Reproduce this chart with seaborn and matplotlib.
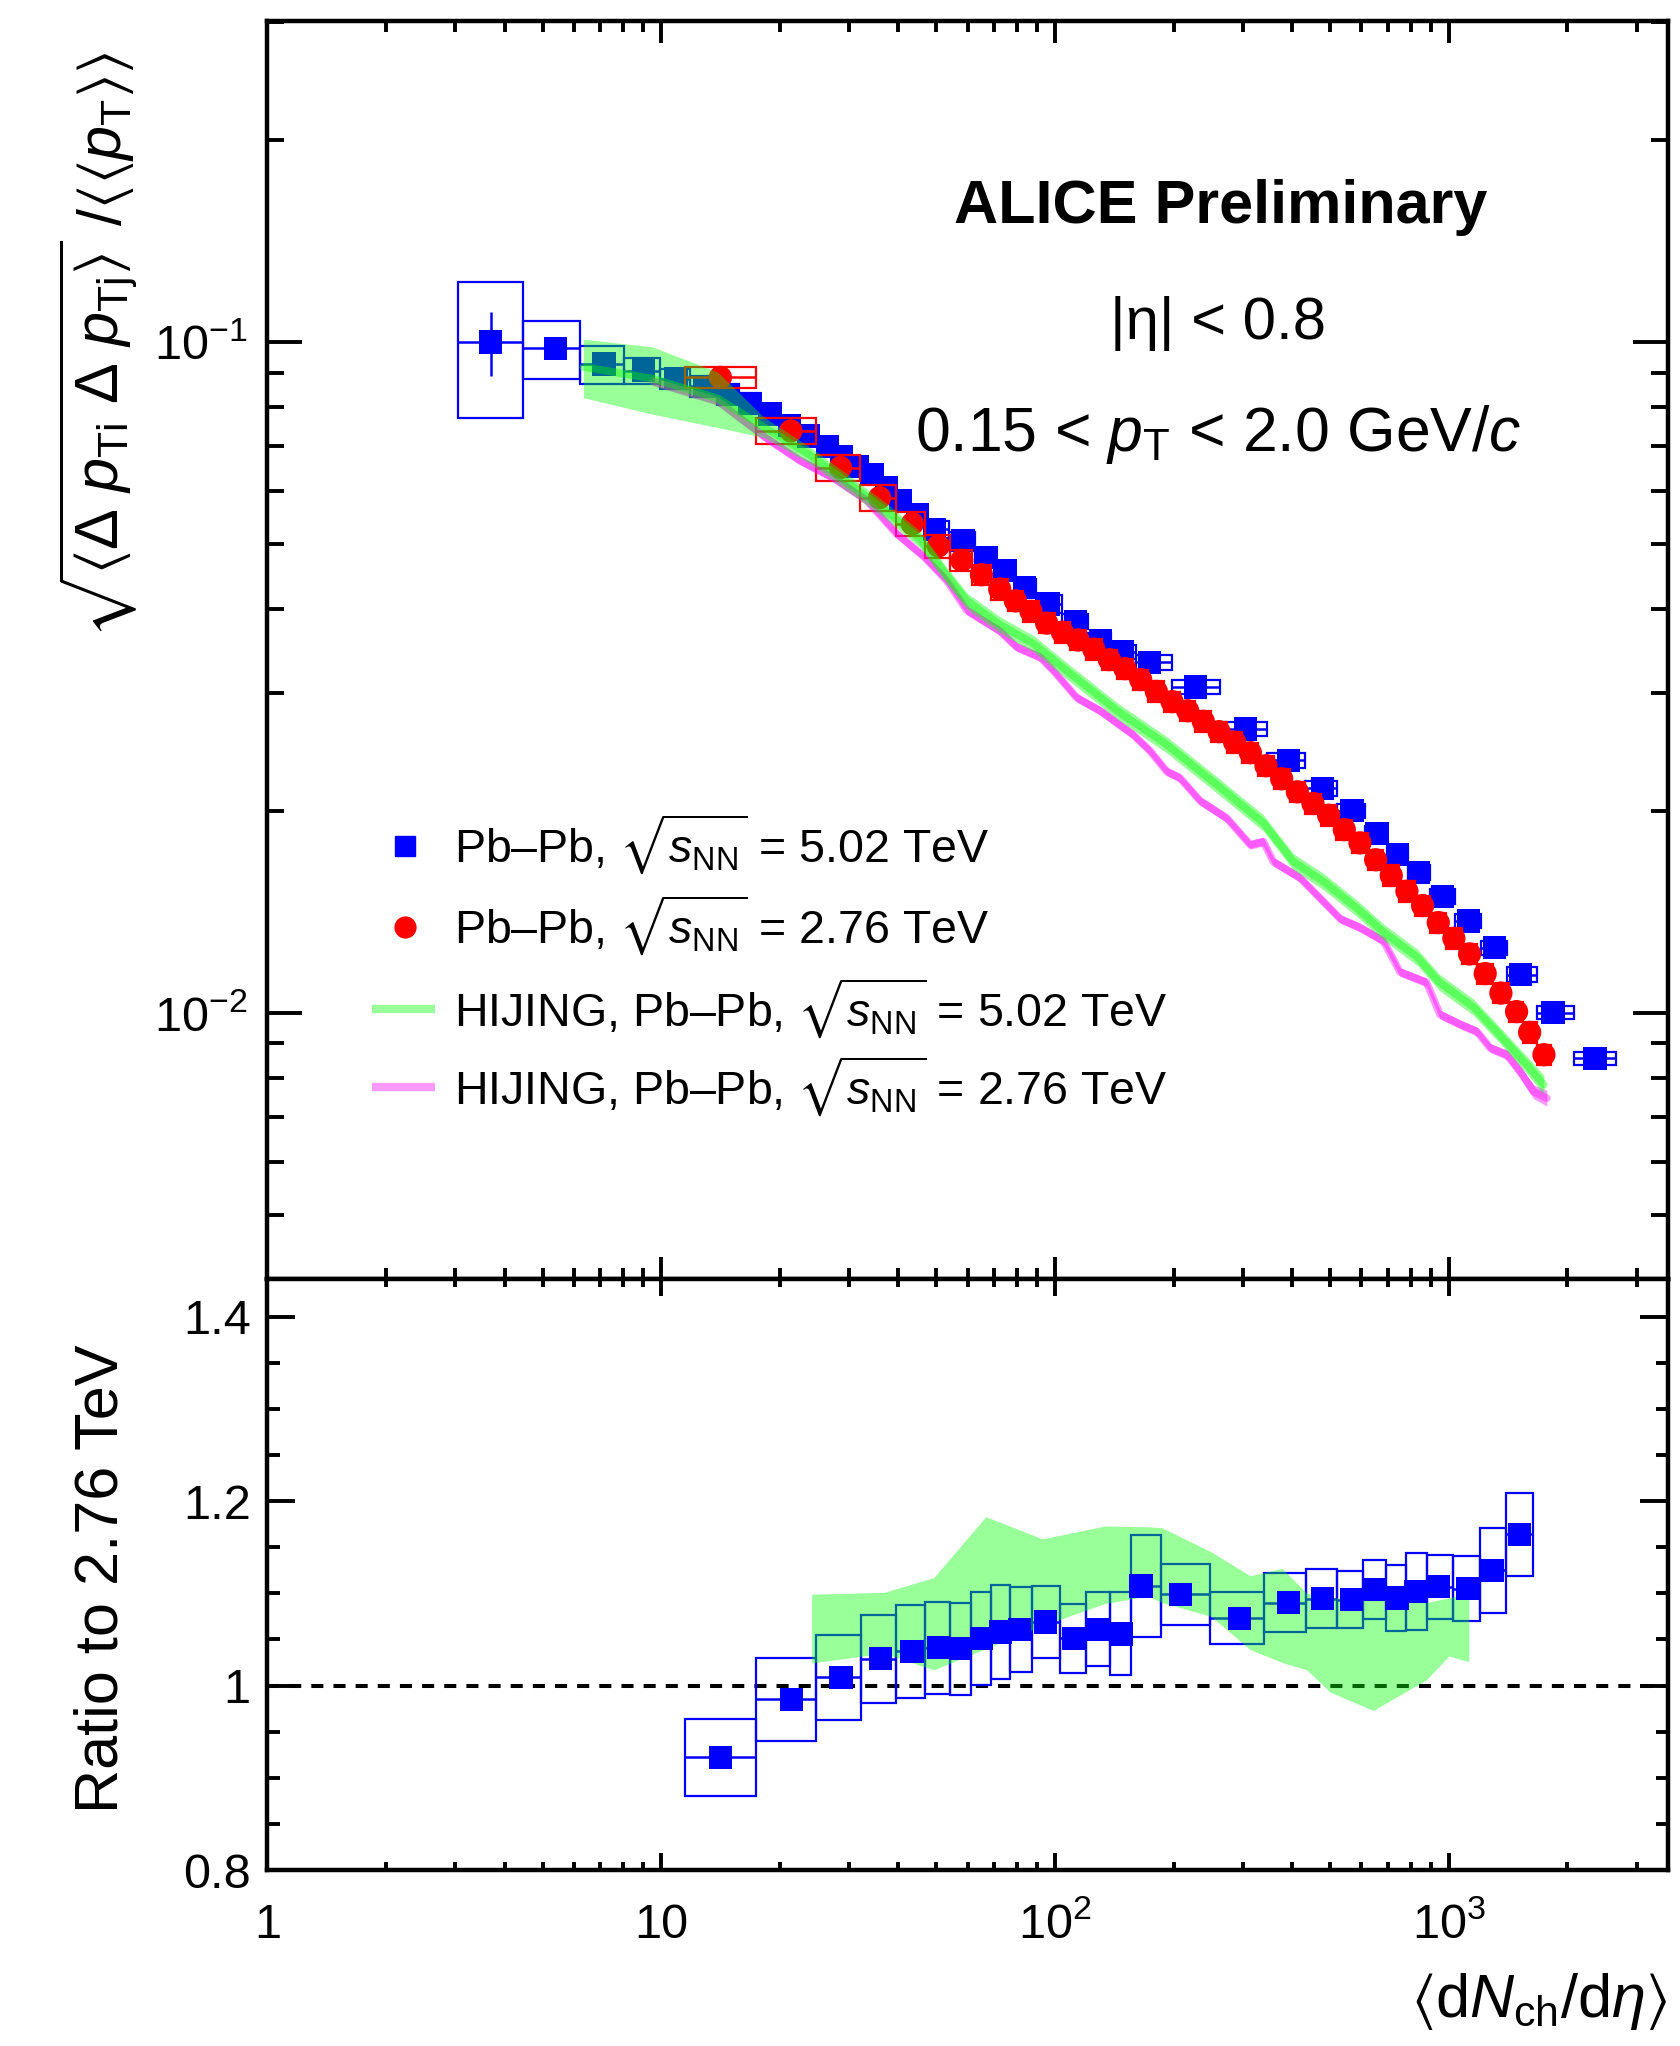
import numpy as np
import pandas as pd
import matplotlib
matplotlib.use("Agg")
import matplotlib.pyplot as plt
import seaborn as sns
from matplotlib.patches import Rectangle
from matplotlib.ticker import FixedLocator, FixedFormatter, LogLocator, NullFormatter, MultipleLocator

# ---------------- data ----------------
# ALICE Pb-Pb 5.02 TeV
pbpb502_x = [3.69, 5.40, 7.16, 9.01, 10.9, 12.9, 14.8, 16.8, 18.9, 21.2,
             23.7, 26.4, 28.7, 31.5, 34.3, 37.3, 40.5, 44.7, 49.4, 58.4,
             67.0, 74.6, 83.6, 96.0, 112.6, 130.2, 148.3, 174, 227, 304,
             391, 477, 568, 657, 742, 838, 962, 1120, 1305, 1521,
             1840, 2350]
pbpb502_y = [0.1000, 0.0978, 0.0927, 0.0906, 0.0882, 0.0859, 0.0836, 0.0810, 0.0781, 0.0750,
             0.0724, 0.0698, 0.0674, 0.0653, 0.0635, 0.0607, 0.0581, 0.0553, 0.0526, 0.0506,
             0.0477, 0.0456, 0.0430, 0.0407, 0.0383, 0.0359, 0.0345, 0.0333, 0.0306, 0.0265,
             0.0238, 0.0216, 0.0200, 0.0185, 0.0172, 0.0162, 0.0149, 0.0137, 0.0125, 0.0114,
             0.0100, 0.00855]
pbpb502_sys = [0.23, 0.10, 0.065, 0.045, 0.035, 0.035, 0.035, 0.035, 0.035, 0.035,
               0.030, 0.030, 0.030, 0.030, 0.030, 0.030, 0.030, 0.030, 0.030, 0.030,
               0.030, 0.030, 0.030, 0.030, 0.025, 0.025, 0.025, 0.025, 0.025, 0.025,
               0.025, 0.025, 0.025, 0.025, 0.025, 0.025, 0.025, 0.025, 0.025, 0.025,
               0.022, 0.022]
pbpb502_stat = [0.11, 0.020, 0.018, 0.008, 0.006, 0.005, 0.005, 0.005, 0.005, 0.005,
                0.005, 0.005, 0.005, 0.005, 0.005, 0.005, 0.005, 0.005, 0.005, 0.005,
                0.005, 0.005, 0.005, 0.005, 0.005, 0.005, 0.005, 0.005, 0.005, 0.005,
                0.005, 0.005, 0.005, 0.005, 0.005, 0.005, 0.005, 0.005, 0.005, 0.005,
                0.005, 0.005]

# ALICE Pb-Pb 2.76 TeV
pbpb276_x = [14.13, 21.34, 28.52, 35.85, 43.41, 50.54, 57.98, 65.03, 72.37, 79.3,
             86.9, 95.2, 104.4, 114.4, 125.4, 137.4, 150.5, 165.0, 180.8, 198.2,
             217.2, 237.9, 260.9, 285.8, 313.3, 343.3, 376.3, 412.4, 451.9, 495.2,
             542.7, 594.8, 651.9, 714.2, 782.7, 857.8, 940.1, 1030, 1129, 1237,
             1356, 1486, 1604, 1744]
pbpb276_y = [0.08857, 0.07370, 0.06500, 0.05861, 0.05358, 0.04965, 0.04726, 0.04498, 0.04281, 0.04112,
             0.03967, 0.03810, 0.03693, 0.03595, 0.03484, 0.03361, 0.03258, 0.03139, 0.03014, 0.02910,
             0.02820, 0.02720, 0.02625, 0.02532, 0.02442, 0.02335, 0.02233, 0.02135, 0.02051, 0.01970,
             0.01875, 0.01792, 0.01691, 0.01602, 0.01518, 0.01445, 0.01363, 0.01291, 0.01224, 0.01144,
             0.01070, 0.01004, 0.00935, 0.00866]
pbpb276_sys = [0.035, 0.045, 0.045, 0.045, 0.040, 0.040, 0.035, 0.035, 0.035, 0.035,
               0.035, 0.035, 0.035, 0.035, 0.035, 0.035, 0.035, 0.035, 0.035, 0.035,
               0.035, 0.035, 0.035, 0.035, 0.035, 0.035, 0.035, 0.035, 0.035, 0.035,
               0.035, 0.035, 0.035, 0.035, 0.035, 0.035, 0.035, 0.035, 0.035, 0.035,
               0.035, 0.035, 0.035, 0.035]

# HIJING Pb-Pb 5.02 TeV
hij502_x = [6.34, 9.50, 13.9, 18.2, 23.7, 29.9, 37.5, 45.4, 52.9, 59.8,
            72.4, 88.2, 106.8, 143.8, 192.2, 256.9, 338, 402.9, 480.3, 585.8,
            682.3, 832.2, 947.3, 1155, 1346, 1579, 1744]
hij502_y = [0.0918, 0.0882, 0.0824, 0.0747, 0.0680, 0.0616, 0.0558, 0.0508, 0.0450, 0.0411,
            0.0379, 0.0355, 0.0324, 0.0282, 0.0251, 0.0219, 0.0192, 0.0168, 0.0157, 0.0143,
            0.0132, 0.0121, 0.0111, 0.0102, 0.00927, 0.00836, 0.00781]
hij502_err = [0.100, 0.115, 0.095, 0.035, 0.028, 0.028, 0.028, 0.028, 0.028, 0.028,
              0.028, 0.028, 0.028, 0.028, 0.028, 0.028, 0.028, 0.028, 0.028, 0.028,
              0.028, 0.028, 0.028, 0.028, 0.028, 0.030, 0.033]

# HIJING Pb-Pb 2.76 TeV
hij276_x = [9.5, 13.9, 18.5, 22.5, 27.3, 33.2, 39.6, 46.6, 53.1, 59.7,
            72.4, 79.9, 91.7, 98.9, 113.5, 130.2, 157.6, 174, 192.2, 207.5,
            233.6, 273.2, 313.3, 338, 358.3, 418.7, 530.5, 594.8, 682.3, 752,
            877.7, 950.1, 1069, 1178, 1274, 1404, 1517, 1641, 1774]
hij276_y = [0.0874, 0.0817, 0.0719, 0.0666, 0.0628, 0.0581, 0.0518, 0.0478, 0.0441, 0.0398,
            0.0371, 0.0351, 0.0339, 0.0324, 0.0295, 0.0282, 0.0260, 0.0246, 0.0229, 0.0224,
            0.0207, 0.0195, 0.0178, 0.0180, 0.0168, 0.0159, 0.0138, 0.0134, 0.0128, 0.0115,
            0.0111, 0.00994, 0.00961, 0.00938, 0.00886, 0.00866, 0.00817, 0.00763, 0.00746]
hij276_err = [0.015, 0.015, 0.015, 0.015, 0.015, 0.015, 0.015, 0.015, 0.015, 0.015,
              0.015, 0.015, 0.015, 0.015, 0.015, 0.015, 0.015, 0.015, 0.015, 0.015,
              0.015, 0.015, 0.015, 0.015, 0.015, 0.015, 0.015, 0.015, 0.015, 0.015,
              0.015, 0.015, 0.015, 0.015, 0.015, 0.017, 0.020, 0.024, 0.027]

# Ratio 5.02 / 2.76 (data)
ratio_x = [14.15, 21.4, 28.6, 36.1, 43.3, 50.7, 57.6, 65.0, 72.6, 81.2,
           94.6, 111.6, 129.1, 147.6, 165.2, 208.5, 294.4, 391.5, 478, 566,
           648.6, 738.6, 823.7, 943.4, 1113, 1292, 1515]
ratio_y = [0.922, 0.985, 1.009, 1.029, 1.037, 1.041, 1.040, 1.051, 1.058, 1.061,
           1.069, 1.051, 1.061, 1.056, 1.108, 1.099, 1.073, 1.090, 1.094, 1.093,
           1.104, 1.095, 1.102, 1.107, 1.105, 1.125, 1.164]
ratio_sys = [0.042, 0.045, 0.046, 0.048, 0.050, 0.050, 0.050, 0.050, 0.051, 0.046,
             0.039, 0.037, 0.040, 0.045, 0.055, 0.033, 0.028, 0.032, 0.032, 0.031,
             0.032, 0.036, 0.042, 0.035, 0.035, 0.046, 0.045]

# Ratio HIJING band
hijr_x = [24.1, 36.8, 49.2, 66.7, 92.9, 134, 172, 187, 249, 313,
          377, 436, 499, 642, 876, 1000, 1124]
hijr_hi = [1.099, 1.101, 1.117, 1.183, 1.159, 1.173, 1.172, 1.171, 1.145, 1.119,
           1.127, 1.100, 1.095, 1.095, 1.090, 1.095, 1.100]
hijr_lo = [1.0245, 1.035, 1.017, 1.040, 1.065, 1.089, 1.097, 1.090, 1.075, 1.039,
           1.025, 1.017, 0.993, 0.973, 1.006, 1.032, 1.026]

# ---------------- style ----------------
sns.set_style("ticks")
plt.rcParams['font.family'] = ['Liberation Sans', 'DejaVu Sans']
plt.rcParams['mathtext.fontset'] = 'custom'
plt.rcParams['mathtext.rm'] = 'Liberation Sans'
plt.rcParams['mathtext.it'] = 'Liberation Sans:italic'
plt.rcParams['mathtext.bf'] = 'Liberation Sans:bold'
plt.rcParams['mathtext.fallback'] = 'stixsans'
plt.rcParams['axes.linewidth'] = 3.2
for k in ('text.color', 'axes.labelcolor', 'xtick.color', 'ytick.color', 'axes.edgecolor'):
    plt.rcParams[k] = 'black'

BLUE = (0, 0, 1)
RED = (1, 0, 0)
GREEN_A = (0, 1, 0, 0.4)
MAG_A = (1, 0, 1, 0.4)
TICKFS = 35
LABFS = 44


def log_edges(x):
    lx = np.log10(np.asarray(x, float))
    mids = 0.5 * (lx[1:] + lx[:-1])
    left = np.r_[lx[0] - (mids[0] - lx[0]), mids]
    right = np.r_[mids, lx[-1] + (lx[-1] - mids[-1])]
    return 10 ** left, 10 ** right


def draw_points(ax, x, y, ylo, yhi, stat, color, marker, z):
    x = np.asarray(x, float)
    y = np.asarray(y, float)
    xl, xr = log_edges(x)
    for a, b, lo, hi in zip(xl, xr, ylo, yhi):
        ax.add_patch(Rectangle((a, lo), b - a, hi - lo, fill=False,
                               edgecolor=color, lw=1.6, zorder=z))
    ax.errorbar(x, y, xerr=[x - xl, xr - x], yerr=stat, fmt='none',
                ecolor=color, elinewidth=1.8, capsize=0, zorder=z + 0.1)
    df = pd.DataFrame({'x': x, 'y': y})
    sns.scatterplot(data=df, x='x', y='y', marker=marker, s=280, color=color,
                    edgecolor='none', linewidth=0, ax=ax, zorder=z + 0.2, legend=False)


fig = plt.figure(figsize=(16.81, 20.46), dpi=100)
ax1 = fig.add_axes([0.1591, 0.37488, 0.8331, 0.61486])
ax2 = fig.add_axes([0.1591, 0.0860, 0.8331, 0.28888], sharex=ax1)

# ---------------- top panel ----------------
y5 = np.asarray(pbpb502_y)
s5 = np.asarray(pbpb502_sys)
draw_points(ax1, pbpb502_x, y5, y5 * (1 - s5), y5 * (1 + s5),
            y5 * np.asarray(pbpb502_stat), BLUE, 's', 3)
y2 = np.asarray(pbpb276_y)
s2 = np.asarray(pbpb276_sys)
draw_points(ax1, pbpb276_x, y2, y2 * (1 - s2), y2 * (1 + s2),
            None, RED, 'o', 4)

hy = np.asarray(hij276_y)
he = np.asarray(hij276_err)
ax1.fill_between(hij276_x, hy * (1 - he), hy * (1 + he), color=MAG_A, lw=0, zorder=6)
sns.lineplot(x=hij276_x, y=hij276_y, color=(1, 0, 1), alpha=0.4, lw=5.5, ax=ax1,
             zorder=6, estimator=None, sort=False)
gy = np.asarray(hij502_y)
ge = np.asarray(hij502_err)
ax1.fill_between(hij502_x, gy * (1 - ge), gy * (1 + ge), color=GREEN_A, lw=0, zorder=7)
sns.lineplot(x=hij502_x, y=hij502_y, color=(0, 1, 0), alpha=0.4, lw=5.5, ax=ax1,
             zorder=7, estimator=None, sort=False)

ax1.set_xscale('log')
ax1.set_yscale('log')
ax1.set_xlim(1, 3600)
ax1.set_ylim(0.00401, 0.301)

# legend (manual rows)
rows_y = [0.3445, 0.2801, 0.2148, 0.1526]
ax1.plot([0.0979], [rows_y[0]], marker='s', ms=14, color=BLUE, ls='none',
         transform=ax1.transAxes, clip_on=False)
ax1.plot([0.0979], [rows_y[1]], marker='o', ms=15, color=RED, ls='none',
         transform=ax1.transAxes, clip_on=False)
ax1.plot([0.0746, 0.1194], [rows_y[2]] * 2, color=GREEN_A, lw=6,
         transform=ax1.transAxes, solid_capstyle='butt')
ax1.plot([0.0746, 0.1194], [rows_y[3]] * 2, color=MAG_A, lw=6,
         transform=ax1.transAxes, solid_capstyle='butt')
leg_labels = [r"Pb–Pb, $\sqrt{s_{\rm NN}}$ = 5.02 TeV",
              r"Pb–Pb, $\sqrt{s_{\rm NN}}$ = 2.76 TeV",
              r"HIJING, Pb–Pb, $\sqrt{s_{\rm NN}}$ = 5.02 TeV",
              r"HIJING, Pb–Pb, $\sqrt{s_{\rm NN}}$ = 2.76 TeV"]
for ry, lab in zip(rows_y, leg_labels):
    ax1.text(0.1332, ry - 0.014, lab, transform=ax1.transAxes, fontsize=33.5,
             ha='left', va='baseline')

ax1.text(0.681, 0.852, "ALICE Preliminary", transform=ax1.transAxes,
         fontsize=44, fontweight='bold', ha='center', va='center')
ax1.text(0.679, 0.7595, "|η| < 0.8", transform=ax1.transAxes,
         fontsize=43, ha='center', va='center')
ax1.text(0.679, 0.671, r"0.15 < $p_{\rm T}$ < 2.0 GeV/$c$", transform=ax1.transAxes,
         fontsize=45, ha='center', va='center')

# ---------------- ratio panel ----------------
ry_ = np.asarray(ratio_y)
rs_ = np.asarray(ratio_sys)
rx = np.asarray(ratio_x, float)
xl, xr = log_edges(rx)
for a, b, lo, hi in zip(xl, xr, ry_ - rs_, ry_ + rs_):
    ax2.add_patch(Rectangle((a, lo), b - a, hi - lo, fill=False,
                            edgecolor=BLUE, lw=1.6, zorder=3))
ax2.errorbar(rx, ry_, xerr=[rx - xl, xr - rx], fmt='none', ecolor=BLUE,
             elinewidth=1.8, capsize=0, zorder=3.1)
ax2.fill_between(hijr_x, hijr_lo, hijr_hi, color=GREEN_A, lw=0, zorder=4)
sns.scatterplot(x=ratio_x, y=ratio_y, marker='s', s=280, color=BLUE,
                edgecolor='none', linewidth=0, ax=ax2, zorder=5, legend=False)
ax2.axhline(1.0, color='black', lw=2.9, ls=(0, (3, 2.5)), zorder=2)
ax2.set_ylim(0.8, 1.4407)

# ---------------- axes cosmetics ----------------
for ax in (ax1, ax2):
    ax.set_xlabel('')
    ax.set_ylabel('')
    ax.tick_params(which='both', direction='in', top=True, right=True,
                   width=2.8, colors='black', labelsize=TICKFS)
    for sp in ax.spines.values():
        sp.set_visible(True)
        sp.set_linewidth(3.2)
        sp.set_color('black')

ax1.xaxis.set_major_locator(FixedLocator([1, 10, 100, 1000]))
ax1.xaxis.set_minor_locator(LogLocator(base=10, subs=np.arange(2, 10), numticks=20))
ax1.yaxis.set_major_locator(FixedLocator([0.01, 0.1]))
ax1.yaxis.set_major_formatter(FixedFormatter([r"$10^{-2}$", r"$10^{-1}$"]))
ax1.yaxis.set_minor_locator(LogLocator(base=10, subs=np.arange(2, 10), numticks=20))
ax1.yaxis.set_minor_formatter(NullFormatter())
ax1.tick_params(axis='x', which='both', labelbottom=False)
ax1.tick_params(axis='x', which='major', length=16)
ax1.tick_params(axis='x', which='minor', length=8)
ax1.tick_params(axis='y', which='major', length=25, pad=14)
ax1.tick_params(axis='y', which='minor', length=12)

ax2.xaxis.set_major_formatter(FixedFormatter(["1", "10", r"$10^{2}$", r"$10^{3}$"]))
ax2.xaxis.set_minor_formatter(NullFormatter())
ax2.yaxis.set_major_locator(FixedLocator([0.8, 1.0, 1.2, 1.4]))
ax2.yaxis.set_major_formatter(FixedFormatter(["0.8", "1", "1.2", "1.4"]))
ax2.yaxis.set_minor_locator(MultipleLocator(0.05))
ax2.tick_params(axis='x', which='major', length=12, pad=49)
ax2.tick_params(axis='x', which='minor', length=6)
ax2.tick_params(axis='y', which='major', length=20, pad=12)
ax2.tick_params(axis='y', which='minor', length=9)
for lab in ax2.get_xticklabels():
    lab.set_verticalalignment('baseline')
ax1.set_xlim(1, 3600)

# axis titles
fig.text(0.0583, 0.8314,
         r"$\sqrt{\langle\Delta\ p_{\rm Ti}\ \Delta\ p_{\rm Tj}\rangle}\ /\langle\langle p_{\rm T}\rangle\rangle$",
         rotation=90, fontsize=LABFS, ha='center', va='center')
fig.text(0.0607, 0.2283, "Ratio to 2.76 TeV", rotation=90, fontsize=LABFS,
         ha='center', va='center')
fig.text(0.9917, 0.0142, r"$\langle$d$N_{\rm ch}$/d$\eta\rangle$", fontsize=LABFS,
         ha='right', va='baseline')

fig.savefig("out.png", dpi=100)
